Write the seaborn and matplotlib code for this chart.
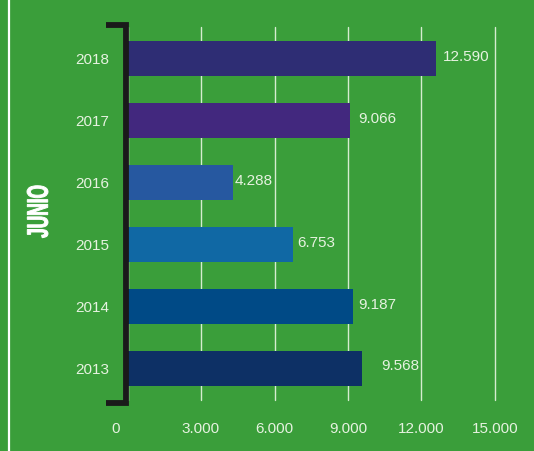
import matplotlib
matplotlib.use("Agg")
import matplotlib.pyplot as plt
import matplotlib.transforms as mtransforms
from matplotlib.lines import Line2D
from matplotlib.textpath import TextPath
from matplotlib.patches import PathPatch
from matplotlib.font_manager import FontProperties
import pandas as pd
import seaborn as sns

# data (June of each year)
years = ['2018', '2017', '2016', '2015', '2014', '2013']
values = [12590, 9066, 4288, 6753, 9187, 9568]
value_labels = ['12.590', '9.066', '4.288', '6.753', '9.187', '9.568']
bar_colors = ['#2e2d74', '#42287e', '#2658a0', '#1068a4', '#004a86', '#0d3065']
x_ticks = [0, 3000, 6000, 9000, 12000, 15000]
x_tick_labels = ['0', '3.000', '6.000', '9.000', '12.000', '15.000']
side_label = 'JUNIO'

df = pd.DataFrame({'year': years, 'value': values})

green = '#3a9e3a'
light = '#e6f2e0'

sns.set_style('white')
plt.rcParams['font.family'] = ['Liberation Sans', 'DejaVu Sans']

fig = plt.figure(figsize=(5.34, 4.51), dpi=100, facecolor=green)
ax = fig.add_axes([127.5 / 534, 1 - 400 / 451, 367.5 / 534, 373 / 451])
ax.set_facecolor(green)

sns.barplot(data=df, y='year', x='value', hue='year', order=years,
            palette=bar_colors, width=0.565, saturation=1, legend=False,
            orient='h', linewidth=0, edgecolor='none', ax=ax, zorder=3)

ax.set_xlim(0, 15000)
ax.set_ylim(5.5, -0.5)
ax.set_xticks(x_ticks)
ax.set_xticklabels(x_tick_labels)
ax.set_xlabel('')
ax.set_ylabel('')
ax.grid(axis='x', color='#d5ecd0', linewidth=1.0, zorder=0)
ax.grid(axis='y', visible=False)
for gl in ax.get_xgridlines():
    gl.set_clip_on(False)
for s in ax.spines.values():
    s.set_visible(False)
ax.tick_params(axis='x', length=0, pad=16, labelsize=11, labelcolor=light)
ax.tick_params(axis='y', length=0, pad=13, labelsize=11, labelcolor=light)

# the "0" label sits a little left of the axis origin
zero_lbl = ax.get_xticklabels()[0]
zero_lbl.set_transform(zero_lbl.get_transform() +
                       mtransforms.ScaledTranslation(-12 / 100, 0, fig.dpi_scale_trans))

# value labels to the right of each bar
pads = [7, 9, 2, 4, 6, 19]
for i, (v, txt) in enumerate(zip(values, value_labels)):
    ax.annotate(txt, (v, i), xytext=(pads[i] * 0.72, 2 if i == 5 else 1),
                textcoords='offset points', ha='left', va='center',
                color=light, fontsize=11)

# black bracket along the category axis
bx, bl = -2 / 367.5, -21.5 / 367.5
bt, bb = 1 + 2.5 / 373, -2.5 / 373
ax.add_line(Line2D([bl, bx, bx, bl], [bt, bt, bb, bb], transform=ax.transAxes,
                   color='#1a1a1a', linewidth=4.2, solid_joinstyle='miter',
                   solid_capstyle='butt', clip_on=False, zorder=5))

# white frame line at the left
fig.add_artist(Line2D([9.2 / 534, 9.2 / 534], [0, 1], transform=fig.transFigure,
                      color='white', linewidth=1.6))

# condensed heavy side label, drawn as a squeezed text path
tp = TextPath((0, 0), side_label, size=29.8,
              prop=FontProperties(family='Liberation Sans', weight='bold'))
ext = tp.get_extents()
cx, cy = (ext.x0 + ext.x1) / 2, (ext.y0 + ext.y1) / 2
tr = (mtransforms.Affine2D().translate(-cx, -cy).scale(52 / ext.width, 21 / ext.height)
      .rotate_deg(90).translate(37.5, 451 - 211.7))
fig.add_artist(PathPatch(tp, transform=tr, facecolor='white', edgecolor='white',
                         linewidth=0.7))

fig.savefig('out.png', dpi=100, facecolor=green)
